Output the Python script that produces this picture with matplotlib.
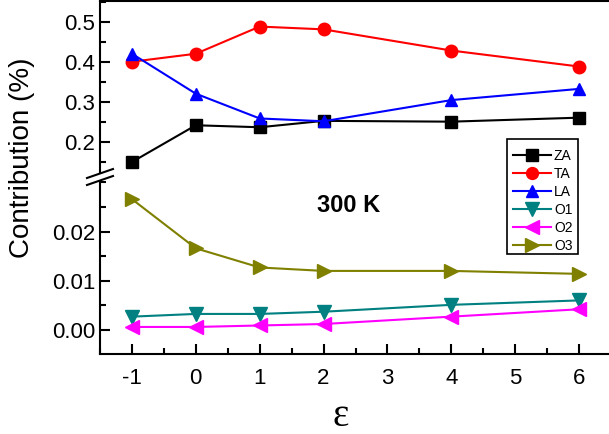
import matplotlib
matplotlib.use("Agg")
import matplotlib.pyplot as plt
from matplotlib.lines import Line2D
from matplotlib.patches import Polygon, Rectangle
from matplotlib.ticker import MultipleLocator

plt.rcParams['font.family'] = ['Liberation Sans', 'DejaVu Sans']
plt.rcParams['axes.unicode_minus'] = False

# strain values
eps = [-1, 0, 1, 2, 4, 6]

# acoustic branches (upper panel)
za = [0.149, 0.241, 0.236, 0.252, 0.250, 0.260]
ta = [0.400, 0.420, 0.488, 0.481, 0.428, 0.388]
la = [0.420, 0.320, 0.258, 0.251, 0.304, 0.332]

# optical branches (lower panel)
o1 = [0.0027, 0.00325, 0.00325, 0.0037, 0.0051, 0.0060]
o2 = [0.0006, 0.0006, 0.0009, 0.0012, 0.0027, 0.0042]
o3 = [0.0266, 0.0166, 0.0127, 0.0120, 0.0120, 0.0114]

W, H = 609, 434
fig = plt.figure(figsize=(W / 100, H / 100), dpi=100)

def fx(px):
    return px / W

def fy(py):
    return 1 - py / H

left = fx(100)
width = (611 - 100) / W
ax_top = fig.add_axes([left, fy(178), width, (178 - 1) / H])
ax_bot = fig.add_axes([left, fy(354), width, (354 - 178) / H])

lw = 1.5
ms = 9
series_top = [
    (za, 's', 'black', 'ZA'),
    (ta, 'o', 'red', 'TA'),
    (la, '^', 'blue', 'LA'),
]
series_bot = [
    (o1, 'v', '#008080', 'O1'),
    (o2, '<', '#ff00ff', 'O2'),
    (o3, '>', '#808000', 'O3'),
]

handles = []
for vals, m, c, name in series_top:
    h, = ax_top.plot(eps, vals, marker=m, color=c, lw=lw, ms=ms, label=name, clip_on=False)
    handles.append(h)
for vals, m, c, name in series_bot:
    h, = ax_bot.plot(eps, vals, marker=m, color=c, lw=lw, ms=ms + 1, label=name, clip_on=False)
    handles.append(h)

ax_top.set_ylim(0.109, 0.552)
ax_bot.set_ylim(-0.0049, 0.0309)
for ax in (ax_top, ax_bot):
    ax.set_xlim(-1.5, 6.5)
    ax.spines['right'].set_visible(False)
    for s in ax.spines.values():
        s.set_linewidth(1.5)
    ax.tick_params(which='both', direction='in', width=1.5, labelsize=16,
                   right=False, top=False)
    ax.tick_params(which='major', length=7.5)
    ax.tick_params(which='minor', length=4)
    ax.xaxis.set_major_locator(MultipleLocator(1))
    ax.xaxis.set_minor_locator(MultipleLocator(0.5))

ax_top.spines['bottom'].set_visible(False)
ax_top.tick_params(axis='x', which='both', bottom=False, labelbottom=False)
ax_top.yaxis.set_minor_locator(MultipleLocator(0.05))
ax_top.set_yticks([0.2, 0.3, 0.4, 0.5])
ax_top.set_yticklabels(['0.2', '0.3', '0.4', '0.5'])

ax_bot.spines['top'].set_visible(False)
ax_bot.set_yticks([0.0, 0.01, 0.02])
ax_bot.set_yticklabels(['0.00', '0.01', '0.02'])
ax_bot.yaxis.set_minor_locator(MultipleLocator(0.005))
ax_bot.tick_params(axis='x', pad=10)

# axis break marks
gap = Polygon([(fx(88), fy(178)), (fx(112), fy(169)), (fx(112), fy(176)), (fx(88), fy(185))],
              closed=True, transform=fig.transFigure, facecolor='white', edgecolor='none', zorder=10)
fig.add_artist(gap)
for y0, y1 in [(178, 169), (185, 176)]:
    fig.add_artist(Line2D([fx(87), fx(113)], [fy(y0), fy(y1)], transform=fig.transFigure,
                          color='black', lw=1.5, zorder=11))

# legend box drawn by hand, entries without frame
fig.add_artist(Rectangle((fx(507), fy(254)), fx(578 - 507), (254 - 139) / H,
                         transform=fig.transFigure, facecolor='white', edgecolor='black',
                         lw=1.2, zorder=20))
leg = fig.legend(handles=handles, loc='upper left', bbox_to_anchor=(fx(513), fy(149)),
                 borderaxespad=0, borderpad=0, fontsize=10, handlelength=2.7,
                 handletextpad=0.25, labelspacing=0.29, frameon=False, markerscale=0.95)
leg.set_zorder(21)

fig.text(fx(22), fy(158), 'Contribution (%)', rotation=90, ha='center', va='center', fontsize=20)
fig.text(fx(341), fy(416), 'ε', ha='center', va='center', fontsize=28, family='Liberation Serif')
fig.text(fx(349), fy(205), '300 K', ha='center', va='center', fontsize=17, fontweight='bold')

fig.savefig('out.png', dpi=100)
